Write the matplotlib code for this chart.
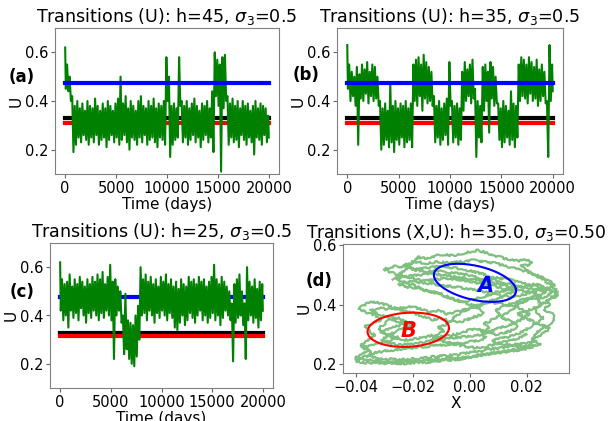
import numpy as np
import matplotlib
matplotlib.use('Agg')
import matplotlib.pyplot as plt

# time samples (days), every 250 days; band read as upper / lower edge of the noisy trace
days = np.arange(0, 20001, 250)

up_a = [0.62, 0.55, 0.50, 0.42, 0.38, 0.40, 0.37, 0.39, 0.36, 0.40, 0.38, 0.37, 0.41, 0.38, 0.36, 0.39, 0.37,
        0.40, 0.38, 0.36, 0.39, 0.41, 0.50, 0.39, 0.42, 0.37, 0.40, 0.38, 0.36, 0.40, 0.42, 0.38, 0.37, 0.40,
        0.38, 0.41, 0.37, 0.39, 0.38, 0.40, 0.58, 0.50, 0.38, 0.39, 0.37, 0.58, 0.40, 0.38, 0.40, 0.37, 0.39,
        0.41, 0.38, 0.36, 0.39, 0.38, 0.40, 0.37, 0.44, 0.60, 0.57, 0.55, 0.58, 0.59, 0.42, 0.39, 0.41, 0.38,
        0.40, 0.37, 0.40, 0.38, 0.39, 0.36, 0.38, 0.40, 0.37, 0.39, 0.38, 0.37, 0.34]
lo_a = [0.45, 0.44, 0.40, 0.19, 0.22, 0.25, 0.23, 0.26, 0.24, 0.22, 0.25, 0.23, 0.26, 0.22, 0.24, 0.25, 0.21,
        0.24, 0.26, 0.23, 0.25, 0.22, 0.24, 0.26, 0.23, 0.20, 0.25, 0.24, 0.22, 0.25, 0.23, 0.26, 0.22, 0.24,
        0.25, 0.23, 0.21, 0.25, 0.24, 0.22, 0.40, 0.17, 0.22, 0.24, 0.25, 0.38, 0.23, 0.25, 0.22, 0.24, 0.26,
        0.23, 0.25, 0.21, 0.24, 0.26, 0.23, 0.25, 0.19, 0.42, 0.38, 0.11, 0.37, 0.40, 0.22, 0.25, 0.23, 0.24,
        0.21, 0.26, 0.24, 0.22, 0.25, 0.23, 0.18, 0.25, 0.24, 0.22, 0.26, 0.23, 0.25]

up_b = [0.63, 0.55, 0.52, 0.50, 0.54, 0.51, 0.55, 0.53, 0.56, 0.52, 0.55, 0.54, 0.50, 0.40, 0.37, 0.39, 0.36,
        0.47, 0.38, 0.40, 0.37, 0.39, 0.38, 0.40, 0.37, 0.39, 0.55, 0.57, 0.58, 0.55, 0.59, 0.56, 0.54, 0.52,
        0.42, 0.38, 0.40, 0.37, 0.39, 0.41, 0.56, 0.40, 0.38, 0.39, 0.37, 0.52, 0.56, 0.53, 0.55, 0.57, 0.45,
        0.40, 0.38, 0.54, 0.55, 0.52, 0.56, 0.54, 0.50, 0.39, 0.37, 0.40, 0.38, 0.36, 0.44, 0.39, 0.38, 0.55,
        0.58, 0.57, 0.55, 0.58, 0.56, 0.54, 0.57, 0.53, 0.55, 0.52, 0.40, 0.63, 0.55]
lo_b = [0.45, 0.40, 0.42, 0.38, 0.22, 0.41, 0.40, 0.43, 0.39, 0.42, 0.40, 0.41, 0.38, 0.20, 0.22, 0.24, 0.21,
        0.23, 0.19, 0.24, 0.22, 0.25, 0.21, 0.23, 0.24, 0.21, 0.40, 0.38, 0.42, 0.36, 0.41, 0.39, 0.40, 0.38,
        0.23, 0.25, 0.22, 0.24, 0.26, 0.22, 0.38, 0.23, 0.25, 0.22, 0.24, 0.36, 0.40, 0.42, 0.39, 0.41, 0.17,
        0.25, 0.23, 0.36, 0.40, 0.27, 0.41, 0.38, 0.39, 0.24, 0.21, 0.23, 0.25, 0.22, 0.24, 0.21, 0.25, 0.40,
        0.42, 0.41, 0.39, 0.43, 0.40, 0.41, 0.38, 0.40, 0.42, 0.39, 0.17, 0.40, 0.44]

up_c = [0.62, 0.55, 0.53, 0.54, 0.57, 0.52, 0.55, 0.53, 0.56, 0.54, 0.52, 0.55, 0.53, 0.56, 0.54, 0.57, 0.55,
        0.58, 0.53, 0.56, 0.61, 0.54, 0.55, 0.52, 0.50, 0.40, 0.49, 0.38, 0.37, 0.36, 0.40, 0.44, 0.60, 0.55,
        0.57, 0.54, 0.56, 0.53, 0.55, 0.52, 0.56, 0.54, 0.57, 0.53, 0.55, 0.52, 0.54, 0.51, 0.55, 0.53, 0.52,
        0.56, 0.54, 0.55, 0.53, 0.56, 0.54, 0.55, 0.52, 0.54, 0.56, 0.61, 0.55, 0.53, 0.56, 0.54, 0.52, 0.50,
        0.45, 0.53, 0.55, 0.57, 0.50, 0.45, 0.60, 0.54, 0.52, 0.55, 0.51, 0.54, 0.53]
lo_c = [0.42, 0.38, 0.40, 0.35, 0.42, 0.39, 0.41, 0.38, 0.43, 0.40, 0.37, 0.41, 0.39, 0.42, 0.40, 0.38, 0.41,
        0.39, 0.42, 0.40, 0.38, 0.22, 0.40, 0.42, 0.37, 0.24, 0.26, 0.22, 0.20, 0.19, 0.23, 0.30, 0.40, 0.41,
        0.38, 0.42, 0.40, 0.37, 0.41, 0.39, 0.42, 0.40, 0.38, 0.41, 0.39, 0.35, 0.34, 0.37, 0.40, 0.36, 0.38,
        0.41, 0.39, 0.37, 0.40, 0.42, 0.38, 0.40, 0.37, 0.39, 0.41, 0.38, 0.40, 0.36, 0.39, 0.42, 0.40, 0.38,
        0.21, 0.37, 0.39, 0.40, 0.36, 0.22, 0.38, 0.40, 0.37, 0.39, 0.35, 0.38, 0.42]

# equilibria (upper, middle, lower) for each h
eq_a = [0.474, 0.330, 0.308]
eq_b = [0.474, 0.329, 0.310]
eq_c = [0.476, 0.326, 0.316]

# (X, U) trajectory for h=35
X = [-0.027, -0.025, -0.023, -0.021, -0.020, -0.018, -0.015, -0.012, -0.009, -0.006, -0.003, 0.000, 0.003,
     0.006, 0.009, 0.011, 0.014, 0.017, 0.020, 0.022, 0.021, 0.018, 0.020, 0.023, 0.026, 0.028, 0.030, 0.031,
     0.029, 0.027, 0.028, 0.026, 0.029, 0.030, 0.028, 0.025, 0.023, 0.021, 0.017, 0.013, 0.009, 0.005, 0.001,
     -0.003, -0.007, -0.011, -0.015, -0.019, -0.023, -0.027, -0.031, -0.035, -0.039, -0.040, -0.037, -0.034,
     -0.036, -0.038, -0.036, -0.033, -0.035, -0.037, -0.034, -0.031, -0.033, -0.036, -0.039, -0.037, -0.034,
     -0.031, -0.028, -0.025, -0.022, -0.019, -0.016, -0.013, -0.010, -0.007, -0.004, -0.001, 0.002, 0.005,
     0.004, 0.001, -0.003, -0.007, -0.011, -0.015, -0.019, -0.023, -0.026, -0.022, -0.018, -0.014, -0.010,
     -0.006, -0.002, 0.002, 0.006, 0.010, 0.014, 0.018, 0.022, 0.025, 0.022, 0.019, 0.016, 0.018, 0.021,
     0.019, 0.016, 0.013, 0.010, 0.007, 0.004, 0.000, -0.004, -0.008, -0.012, -0.016, -0.020, -0.024, -0.028,
     -0.031, -0.029, -0.026, -0.023, -0.020, -0.024, -0.028, -0.030, -0.032, -0.030, -0.027, -0.024, -0.020,
     -0.016, -0.012, -0.009, -0.011, -0.008, -0.005, -0.002, 0.002, 0.006, 0.010, 0.013, 0.016, 0.012, 0.008,
     0.004, 0.000, -0.004, -0.008, -0.012, -0.016, -0.020, -0.024, -0.028, -0.030, -0.026, -0.022, -0.018,
     -0.014, -0.010, -0.006, -0.002, 0.002, 0.006, 0.010, 0.014, 0.018, 0.022, 0.026, 0.029, 0.027, 0.024,
     0.025, 0.023, 0.024, 0.026, 0.024, 0.021, 0.019, 0.016, 0.013, 0.010, 0.008, 0.010, 0.014, 0.018, 0.021,
     0.022, 0.019, 0.015, 0.011, 0.007, 0.003, -0.001, -0.005, -0.009, -0.013, -0.017, -0.021, -0.025, -0.029,
     -0.033, -0.036, -0.033, -0.029, -0.025, -0.021, -0.017, -0.013, -0.009, -0.005, -0.001, 0.003, 0.006,
     0.004, 0.007, 0.005, 0.008, 0.011, 0.009, 0.012, 0.016, 0.020, 0.024, 0.027, 0.024, 0.020, 0.016, 0.012,
     0.008, 0.004, 0.000, -0.004, -0.008, -0.012, -0.016, -0.020, -0.023, -0.019, -0.015, -0.011, -0.007,
     -0.003, 0.001, 0.005, 0.009, 0.013, 0.017, 0.021, 0.025, 0.028, 0.030, 0.027, 0.023, 0.019, 0.015, 0.011,
     0.007, 0.003, -0.001, -0.005, -0.009, -0.013, -0.017, -0.021, -0.025, -0.022, -0.018, -0.014, -0.010,
     -0.006, -0.002, 0.002, 0.006, 0.010, 0.014, 0.018, 0.022, 0.025, 0.028, 0.031, 0.029, 0.026, 0.023, 0.020,
     0.017, 0.020, 0.023, 0.026, 0.028, 0.026, 0.024, 0.022, 0.025, 0.022, 0.019, 0.015, 0.011, 0.007, 0.003,
     -0.001, -0.005, -0.009, -0.013, -0.017, -0.021, -0.025, -0.029, -0.033, -0.037, -0.040, -0.038, -0.035,
     -0.038, -0.035, -0.031, -0.028, -0.025, -0.028, -0.031, -0.028, -0.025, -0.022, -0.025, -0.029, -0.032,
     -0.035, -0.032, -0.028, -0.024, -0.020, -0.017, -0.014, -0.011, -0.008, -0.005, -0.002, 0.001, 0.004,
     0.007, 0.010, 0.013, 0.016, 0.014, 0.011, 0.014, 0.017, 0.015, 0.012, 0.009, 0.006, 0.002, -0.002, -0.005,
     -0.009, -0.013, -0.010, -0.006, -0.002, 0.002, 0.006, 0.010, 0.014, 0.018, 0.020]
U = [0.485, 0.500, 0.515, 0.530, 0.545, 0.560, 0.555, 0.565, 0.570, 0.565, 0.572, 0.578, 0.583, 0.575, 0.565,
     0.560, 0.552, 0.548, 0.550, 0.545, 0.535, 0.530, 0.515, 0.500, 0.485, 0.470, 0.455, 0.440, 0.430, 0.415,
     0.400, 0.385, 0.370, 0.350, 0.335, 0.320, 0.300, 0.262, 0.252, 0.245, 0.240, 0.232, 0.225, 0.218, 0.214,
     0.210, 0.207, 0.205, 0.203, 0.204, 0.203, 0.205, 0.207, 0.215, 0.225, 0.235, 0.250, 0.265, 0.280, 0.295,
     0.310, 0.325, 0.340, 0.350, 0.365, 0.375, 0.385, 0.400, 0.410, 0.405, 0.395, 0.385, 0.380, 0.370, 0.360,
     0.350, 0.355, 0.345, 0.340, 0.350, 0.360, 0.370, 0.385, 0.400, 0.410, 0.425, 0.440, 0.450, 0.465, 0.475,
     0.490, 0.495, 0.500, 0.505, 0.500, 0.495, 0.490, 0.485, 0.475, 0.470, 0.460, 0.450, 0.440, 0.430, 0.420,
     0.410, 0.400, 0.385, 0.370, 0.355, 0.340, 0.330, 0.320, 0.310, 0.300, 0.295, 0.290, 0.285, 0.280, 0.275,
     0.270, 0.265, 0.270, 0.280, 0.295, 0.310, 0.320, 0.330, 0.340, 0.350, 0.335, 0.320, 0.300, 0.290, 0.280,
     0.285, 0.290, 0.300, 0.310, 0.325, 0.335, 0.360, 0.380, 0.395, 0.410, 0.420, 0.435, 0.445, 0.455, 0.465,
     0.470, 0.480, 0.485, 0.490, 0.485, 0.480, 0.490, 0.500, 0.510, 0.520, 0.530, 0.525, 0.520, 0.525, 0.530,
     0.525, 0.520, 0.510, 0.500, 0.490, 0.485, 0.475, 0.465, 0.455, 0.445, 0.430, 0.415, 0.400, 0.385, 0.370,
     0.355, 0.340, 0.325, 0.310, 0.300, 0.290, 0.285, 0.280, 0.270, 0.265, 0.268, 0.275, 0.265,
     0.258, 0.262, 0.255, 0.250, 0.243, 0.238, 0.232, 0.228, 0.225, 0.220, 0.218, 0.215, 0.218, 0.222, 0.230,
     0.240, 0.245, 0.250, 0.255, 0.258, 0.262, 0.265, 0.270, 0.275, 0.280, 0.290, 0.305, 0.320, 0.335, 0.350,
     0.365, 0.380, 0.395, 0.410, 0.420, 0.430, 0.440, 0.450, 0.455, 0.465, 0.475, 0.485, 0.490, 0.500, 0.505,
     0.510, 0.515, 0.510, 0.520, 0.535, 0.545, 0.540, 0.545, 0.540, 0.545, 0.550, 0.545, 0.540, 0.530, 0.520,
     0.510, 0.495, 0.480, 0.465, 0.455, 0.445, 0.435, 0.425, 0.430, 0.440, 0.450, 0.455, 0.460, 0.465, 0.470,
     0.475, 0.480, 0.470, 0.460, 0.455, 0.445, 0.435, 0.420, 0.410, 0.420, 0.430, 0.445, 0.450, 0.460, 0.470,
     0.465, 0.450, 0.435, 0.420, 0.405, 0.390, 0.380, 0.370, 0.355, 0.340, 0.330, 0.320, 0.305, 0.290, 0.280,
     0.270, 0.258, 0.250, 0.245, 0.240, 0.236, 0.230, 0.225, 0.220, 0.218, 0.215, 0.212, 0.210, 0.208, 0.210,
     0.212, 0.215, 0.220, 0.235, 0.245, 0.255, 0.265, 0.270, 0.280, 0.290, 0.300, 0.310, 0.320, 0.330, 0.340,
     0.355, 0.360, 0.370, 0.380, 0.390, 0.385, 0.390, 0.395, 0.385, 0.375, 0.380, 0.370, 0.375, 0.385, 0.390,
     0.400, 0.410, 0.405, 0.400, 0.390, 0.375, 0.360, 0.345, 0.330, 0.315, 0.305, 0.300, 0.310, 0.320, 0.310,
     0.300, 0.295, 0.290, 0.280, 0.270, 0.260, 0.255, 0.260, 0.270, 0.280, 0.290, 0.300]

# ellipses around the two states
A_center = (0.0019, 0.474)
B_center = (-0.0215, 0.316)


def zigzag(up, lo):
    t = np.clip(np.ravel(np.column_stack([days - 62, days + 62])), 0, 20000)
    u = np.ravel(np.column_stack([up, lo]))
    return t, u


def style(ax):
    ax.tick_params(labelsize=10.5, length=3, pad=2, color='0.4')
    for s in ax.spines.values():
        s.set_color('0.5')


def ts_panel(rect, up, lo, eq, h, blue_on_top):
    ax = fig.add_axes(rect)
    t, u = zigzag(up, lo)
    ax.plot([0, 20000], [eq[1], eq[1]], color='k', lw=3, zorder=1)
    ax.plot([0, 20000], [eq[2], eq[2]], color='r', lw=3, zorder=1)
    ax.plot([0, 20000], [eq[0], eq[0]], color='b', lw=3, zorder=3 if blue_on_top else 1)
    ax.plot(t, u, color='green', lw=1.5, zorder=2)
    ax.set_xlim(-1000, 21000)
    ax.set_ylim(0.1, 0.7)
    ax.set_yticks([0.2, 0.4, 0.6])
    ax.set_xticks([0, 5000, 10000, 15000, 20000])
    ax.set_xlabel('Time (days)', fontsize=11, labelpad=1)
    ax.set_ylabel('U', fontsize=11, labelpad=1)
    ax.set_title('Transitions (U): h=%d, $\\sigma_3$=0.5' % h, fontsize=12.6, pad=4)
    style(ax)
    return ax


W, H = 609, 421
fig = plt.figure(figsize=(W / 100, H / 100), dpi=100)


def rect(l, t, r, b):
    return [l / W, 1 - b / H, (r - l) / W, (b - t) / H]


ts_panel(rect(55, 28, 279, 174), up_a, lo_a, eq_a, 45, True)
ts_panel(rect(337, 28, 563, 174), up_b, lo_b, eq_b, 35, True)
ts_panel(rect(50, 243, 273, 388), up_c, lo_c, eq_c, 25, False)

ax = fig.add_axes(rect(343, 244, 569, 373))
traj, = ax.plot(X, U, color='green', alpha=0.5, lw=1.6)
traj.set_sketch_params(scale=1.0, length=3, randomness=20)
th = np.linspace(0, 2 * np.pi, 200)
# semi-axes in data units (major along the tilted direction)
ua, va = np.array([0.01439, -0.0225]), np.array([-0.00095, 0.0600])
ub, vb = np.array([0.01428, 0.0056]), np.array([0.00020, 0.0575])
ax.plot(A_center[0] + np.cos(th) * ua[0] + np.sin(th) * va[0],
        A_center[1] + np.cos(th) * ua[1] + np.sin(th) * va[1], color='b', lw=1.5)
ax.plot(B_center[0] + np.cos(th) * ub[0] + np.sin(th) * vb[0],
        B_center[1] + np.cos(th) * ub[1] + np.sin(th) * vb[1], color='r', lw=1.5)
ax.text(A_center[0] + 0.0035, A_center[1] - 0.01, 'A', color='b', fontsize=15, fontweight='bold',
        style='italic', ha='center', va='center')
ax.text(B_center[0], B_center[1] - 0.003, 'B', color='r', fontsize=15, fontweight='bold',
        style='italic', ha='center', va='center')
ax.set_xlim(-0.0444, 0.0349)
ax.set_ylim(0.1706, 0.6047)
ax.set_xticks([-0.04, -0.02, 0.0, 0.02])
ax.set_yticks([0.2, 0.4, 0.6])
ax.set_xlabel('X', fontsize=11, labelpad=1)
ax.set_ylabel('U', fontsize=11, labelpad=1)
ax.set_title('Transitions (X,U): h=35.0, $\\sigma_3$=0.50', fontsize=12.3, pad=4)
style(ax)

for lab, x, y in [('(a)', 21.5, 77), ('(b)', 306, 75), ('(c)', 22, 292), ('(d)', 319.5, 281)]:
    fig.text(x / W, 1 - y / H, lab, fontsize=12, fontweight='bold', ha='center', va='center')

fig.savefig('out.png', dpi=100)
